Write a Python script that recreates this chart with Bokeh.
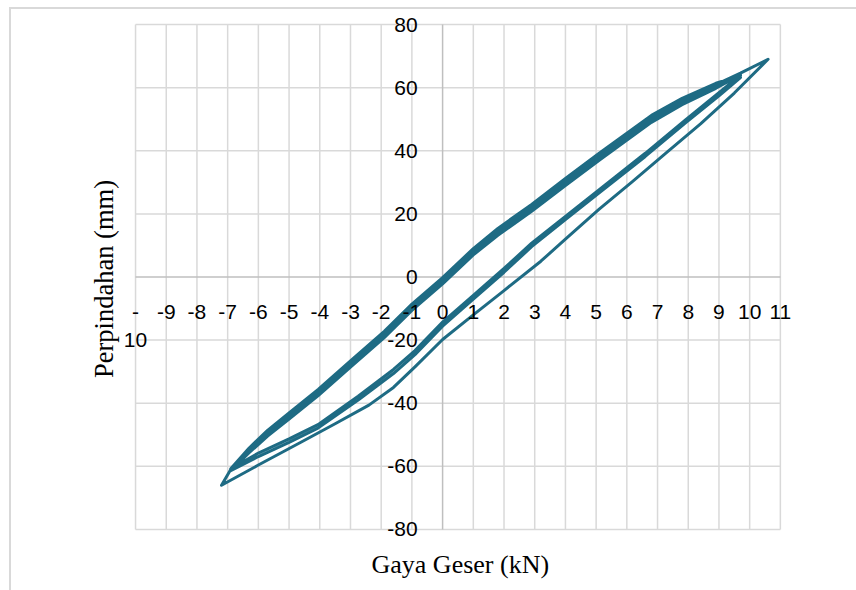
from bokeh.plotting import figure
from bokeh.models import LinearAxis, FixedTicker, Range1d, ColumnDataSource, Title, Grid
from bokeh.embed import file_html
from bokeh.resources import INLINE

# ---- data (force kN, displacement mm) ----
x_ticks = list(range(-10, 12))
y_ticks = [-80, -60, -40, -20, 0, 20, 40, 60, 80]

force = [
    0.0, 1.0, 1.8, 2.9, 4.0, 5.1, 5.5, 6.8, 7.8, 8.9, 9.7,
    8.9, 7.8, 6.8, 5.1, 4.0, 2.9, 1.8, 1.0, 0.0, -1.0, -1.9, -3.0, -4.05, -5.0, -5.7, -6.3, -6.9,
    -6.0, -5.0, -4.06, -2.75, -1.6, -0.9, 0.0, 1.0, 2.0, 2.9, 4.0, 5.1, 6.6, 7.9, 9.0, 9.7,
    8.9, 7.8, 6.8, 5.1, 4.0, 2.9, 1.8, 1.0, 0.0, -1.0, -1.9, -3.0, -4.05, -5.0, -5.7, -6.3, -6.9,
    -6.0, -5.0, -4.06, -2.75, -1.6, -0.9, 0.0, 1.0, 2.0, 2.9, 4.0, 5.1, 6.6, 7.9, 9.0, 9.7,
    8.9, 7.8, 6.8, 5.1, 4.0, 2.9, 1.8, 1.0, 0.0, -1.0, -1.9, -3.0, -4.05, -5.0, -5.7, -6.3, -6.9, -7.2,
    -6.0, -4.6, -3.5, -2.4, -1.6, -0.9, 0.0, 1.0, 2.0, 3.2, 4.0, 5.1, 6.2, 7.3, 8.4, 9.5, 10.6,
    9.7, 8.9, 7.8, 6.8, 5.5, 5.1, 4.0, 2.9, 1.8, 1.0,
]
displacement = [
    -1.0, 8.0, 14.5, 21.8, 30.0, 38.0, 40.5, 50.0, 55.5, 60.5, 63.8,
    61.4, 56.6, 51.2, 39.2, 31.2, 23.0, 15.4, 9.0, -0.2, -8.6, -17.2, -26.6, -35.6, -43.1, -48.6, -54.2, -60.8,
    -55.8, -51.3, -46.8, -37.8, -29.3, -23.3, -14.3, -5.8, 2.7, 10.7, 19.2, 27.7, 39.2, 49.7, 58.4, 64.0,
    59.8, 54.6, 49.0, 37.0, 29.0, 20.8, 13.2, 7.0, -2.2, -10.6, -19.2, -28.6, -37.6, -45.0, -50.4, -55.7, -61.4,
    -56.9, -52.4, -47.9, -39.0, -30.6, -24.6, -15.6, -7.0, 1.5, 9.6, 18.2, 26.7, 38.2, 48.8, 57.4, 63.2,
    60.6, 55.6, 50.2, 38.2, 30.2, 22.0, 14.3, 8.0, -1.2, -9.6, -18.2, -27.6, -36.6, -44.0, -49.5, -55.0, -61.0, -66.0,
    -59.6, -52.3, -46.5, -40.6, -35.0, -28.5, -19.8, -12.0, -4.3, 5.0, 12.0, 21.5, 30.4, 39.5, 48.5, 58.3, 69.0,
    64.6, 61.0, 55.8, 50.2, 41.0, 38.2, 30.2, 22.0, 14.3, 8.0,
]

x_title = "Gaya Geser (kN)"
y_title = "Perpindahan (mm)"
x_labels = {t: ("-\n10" if t == -10 else str(t)) for t in x_ticks}
y_labels = {t: str(t) for t in y_ticks}

LINE = "#1e6b84"
GRID = "#d9d9d9"
ZERO = "#bfbfbf"
TICK_FONT = "Liberation Sans"
TITLE_FONT = "Liberation Serif"

x_lo, x_hi = min(x_ticks), max(x_ticks)
y_lo, y_hi = min(y_ticks), max(y_ticks)

p = figure(
    width=847, height=583,
    x_range=Range1d(-10.392, 12.372), y_range=Range1d(-85.726, 84.453),
    output_backend="svg", toolbar_location=None,
    x_axis_location=None, y_axis_location=None,
    min_border_left=112, min_border_right=36, min_border_top=1, min_border_bottom=45,
    background_fill_color="white", border_fill_color="white",
)
p.margin = (7, 0, 0, 9)
p.styles = {"border-left": "2px solid #d9d9d9", "border-top": "2px solid #d9d9d9"}
p.outline_line_color = None
# drop the figure's default (unbounded) grids
p.center = [r for r in p.center if not isinstance(r, Grid)]

# gridlines (bounded to the tick extent, like the Excel plot area)
gx = [t for t in x_ticks if t != 0]
gy = [t for t in y_ticks if t != 0]
p.segment(x0=gx, y0=[y_lo] * len(gx), x1=gx, y1=[y_hi] * len(gx),
          line_color=GRID, line_width=1.5)
p.segment(x0=[x_lo] * len(gy), y0=gy, x1=[x_hi] * len(gy), y1=gy,
          line_color=GRID, line_width=1.5)
# zero (axis) lines
p.segment(x0=[0, x_lo], y0=[y_lo, 0], x1=[0, x_hi], y1=[y_hi, 0],
          line_color=ZERO, line_width=1.5)

xa = LinearAxis(ticker=FixedTicker(ticks=x_ticks), fixed_location=0, bounds=(x_lo, x_hi),
                axis_line_color=None,
                major_tick_line_color=None, minor_tick_line_color=None,
                major_tick_out=0, major_tick_in=0, major_label_standoff=23,
                major_label_text_font=TICK_FONT, major_label_text_font_size="21px",
                major_label_text_color="#000000", major_label_overrides=x_labels)
p.add_layout(xa, "below")

ya = LinearAxis(ticker=FixedTicker(ticks=y_ticks), fixed_location=0, bounds=(y_lo, y_hi),
                axis_line_color=None,
                major_tick_line_color=None, minor_tick_line_color=None,
                major_tick_out=0, major_tick_in=0, major_label_standoff=25,
                major_label_text_font=TICK_FONT, major_label_text_font_size="21px",
                major_label_text_color="#000000", major_label_overrides=y_labels)
p.add_layout(ya, "left")

p.add_layout(Title(text=x_title, align="left", offset=248, standoff=1,
                   text_font=TITLE_FONT, text_font_size="26px", text_font_style="normal",
                   text_color="#000000"), "below")
p.add_layout(Title(text=y_title, align="center", offset=-8, standoff=9,
                   text_font=TITLE_FONT, text_font_size="26.5px", text_font_style="normal",
                   text_color="#000000"), "left")

src = ColumnDataSource(dict(x=force, y=displacement))
p.line("x", "y", source=src, line_color=LINE, line_width=3, line_join="round")

open("out.html", "w").write(file_html(p, INLINE))
